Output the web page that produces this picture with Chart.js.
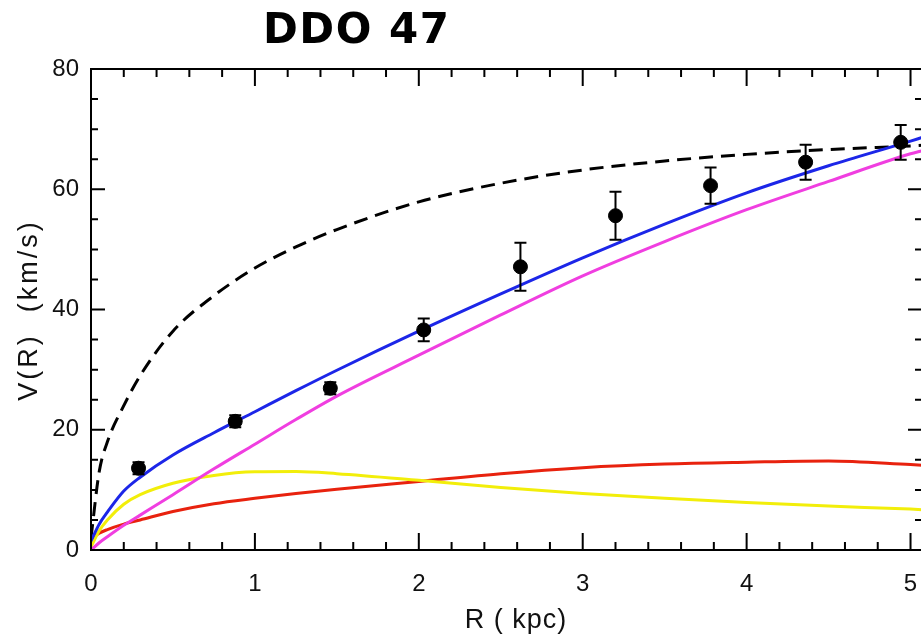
<!DOCTYPE html>
<html>
<head>
<meta charset="utf-8">
<title>DDO 47</title>
<script src="https://cdn.jsdelivr.net/npm/chart.js@4.4.1/dist/chart.umd.min.js"></script>
<style>
  html, body { margin: 0; padding: 0; background: #fff; overflow: hidden; }
  #wrap { position: relative; width: 921px; height: 640px; overflow: hidden; }
  #grafik { position: absolute; left: 0; top: 0; }
  #judul {
    position: absolute; left: 263px; top: 8px;
    font: bold 42px "DejaVu Sans", sans-serif; line-height: 1; color: #000;
    letter-spacing: 1.5px;
  }
</style>
</head>
<body>
<div id="wrap">
  <canvas id="grafik" width="940" height="640"></canvas>
  <div id="judul">DDO 47</div>
</div>
<script>
// observed rotation curve (kpc, km/s)
const obsR = [0.29, 0.88, 1.46, 2.03, 2.62, 3.20, 3.78, 4.36, 4.94];
const obsV = [13.6, 21.4, 26.9, 36.6, 47.1, 55.6, 60.6, 64.5, 67.8];
const obsErr = [1.0, 1.0, 1.0, 1.9, 4.0, 4.0, 3.0, 2.9, 2.9];

// model curves sampled on one radius grid
const modelR = [0, 0.05, 0.1, 0.2, 0.3, 0.5, 0.75, 1, 1.25, 1.5, 2, 2.5, 3, 3.5, 4, 4.5, 5, 5.07];
const vCompare = [2, 13, 18, 24, 29, 36.4, 42.3, 46.9, 50.4, 53.3, 57.9, 61.0, 63.2, 64.7, 65.8, 66.6, 67.2, 67.3];
const vTotal   = [1.5, 4.3, 6.3, 9.8, 12.1, 15.8, 19.5, 23.0, 26.5, 29.9, 36.4, 42.6, 48.6, 54.2, 59.4, 63.9, 68.0, 68.6];
const vHalo    = [0, 1.2, 2.2, 4.1, 5.8, 9.2, 13.5, 17.6, 21.7, 25.6, 32.4, 39.1, 45.6, 51.3, 56.6, 61.3, 65.9, 66.4];
const vDisk    = [0.5, 3.2, 5.0, 7.6, 9.2, 11.1, 12.4, 13.0, 13.05, 12.7, 11.6, 10.4, 9.4, 8.6, 7.9, 7.3, 6.8, 6.7];
const vGas     = [1.8, 2.8, 3.4, 4.3, 5.0, 6.4, 7.7, 8.6, 9.4, 10.1, 11.4, 12.7, 13.7, 14.3, 14.6, 14.8, 14.2, 14.1];

const xTicksMinor = 0.2;
const yTicksMinor = 5;

const toPoints = (xs, ys) => xs.map((r, i) => ({ x: r, y: ys[i] }));

const curve = (values, color, dash) => ({
  data: toPoints(modelR, values),
  showLine: true,
  borderColor: color,
  borderWidth: 3,
  borderDash: dash || [],
  pointRadius: 0,
  cubicInterpolationMode: "monotone",
  fill: false
});

/* frame, inward ticks, error bars and axis titles */
const bingkai = {
  id: "bingkai",
  afterDatasetsDraw(chart) {
    const { ctx, chartArea: a, scales: { x, y } } = chart;
    ctx.save();
    ctx.strokeStyle = "#000";
    ctx.lineWidth = 2;

    // error bars
    obsR.forEach((r, i) => {
      const px = x.getPixelForValue(r);
      const top = y.getPixelForValue(obsV[i] + obsErr[i]);
      const bot = y.getPixelForValue(obsV[i] - obsErr[i]);
      ctx.beginPath();
      ctx.moveTo(px, top); ctx.lineTo(px, bot);
      ctx.moveTo(px - 6, top); ctx.lineTo(px + 6, top);
      ctx.moveTo(px - 6, bot); ctx.lineTo(px + 6, bot);
      ctx.stroke();
    });

    ctx.strokeRect(a.left, a.top, a.right - a.left, a.bottom - a.top);

    ctx.beginPath();
    for (let i = 0; i * xTicksMinor <= x.max + 1e-9; i++) {
      const px = x.getPixelForValue(i * xTicksMinor);
      const len = i % 5 === 0 ? 17 : 8;
      ctx.moveTo(px, a.bottom); ctx.lineTo(px, a.bottom - len);
      ctx.moveTo(px, a.top); ctx.lineTo(px, a.top + len);
    }
    for (let v = 0; v <= y.max; v += yTicksMinor) {
      const py = y.getPixelForValue(v);
      const len = v % 20 === 0 ? 14 : 7;
      ctx.moveTo(a.left, py); ctx.lineTo(a.left + len, py);
      ctx.moveTo(a.right, py); ctx.lineTo(a.right - len, py);
    }
    ctx.stroke();

    // axis titles
    ctx.fillStyle = "#111";
    ctx.textAlign = "center";
    ctx.textBaseline = "middle";
    ctx.font = '27px "Liberation Sans", sans-serif';
    ctx.letterSpacing = "1px";
    ctx.fillText("R ( kpc)", 516, 621);
    ctx.letterSpacing = "3px";
    ctx.translate(30, 310);
    ctx.rotate(-Math.PI / 2);
    ctx.fillText("V(R)  (km/s)", 0, 0);
    ctx.restore();
  }
};

const tickFont = { family: "Liberation Sans", size: 24 };

new Chart(document.getElementById("grafik"), {
  type: "scatter",
  data: {
    datasets: [
      {
        data: toPoints(obsR, obsV),
        pointRadius: 7,
        pointBackgroundColor: "#000",
        pointBorderColor: "#000",
        showLine: false
      },
      curve(vTotal, "#1c26e8"),
      curve(vHalo, "#f03ee0"),
      curve(vDisk, "#f2ee0a"),
      curve(vGas, "#e8220e"),
      curve(vCompare, "#000", [14, 8])
    ]
  },
  options: {
    responsive: false,
    animation: false,
    layout: { padding: { top: 69, right: 18, left: 0, bottom: 0 } },
    plugins: { legend: { display: false }, tooltip: { enabled: false } },
    scales: {
      x: {
        type: "linear",
        min: 0,
        max: 5.07,
        afterFit: s => { s.height = 90; },
        grid: { display: false, drawTicks: false },
        border: { display: false },
        ticks: { stepSize: 1, includeBounds: false, padding: 20, color: "#111", font: tickFont }
      },
      y: {
        min: 0,
        max: 80,
        afterFit: s => { s.width = 91; },
        grid: { display: false, drawTicks: false },
        border: { display: false },
        ticks: { stepSize: 20, padding: 12, color: "#111", font: tickFont }
      }
    }
  },
  plugins: [bingkai]
});
</script>
</body>
</html>
